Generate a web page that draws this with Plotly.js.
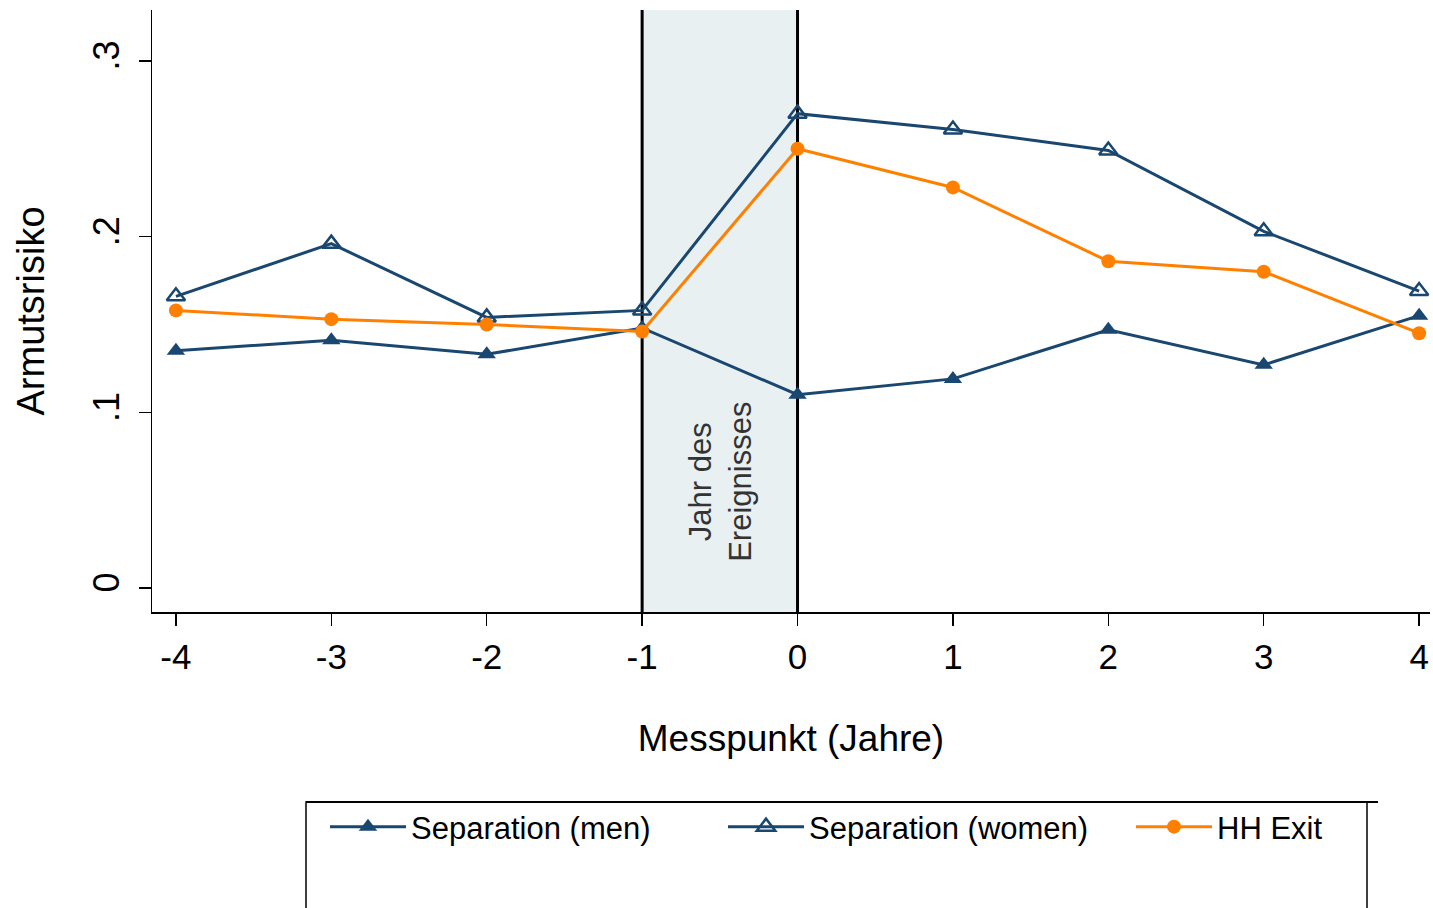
<!DOCTYPE html>
<html>
<head>
<meta charset="utf-8">
<script src="https://cdn.plot.ly/plotly-3.0.1.min.js"></script>
<style>html,body{margin:0;padding:0;background:#fff;}#chart{width:1433px;height:908px;}</style>
</head>
<body>
<div id="chart"></div>
<script>
const years = [-4, -3, -2, -1, 0, 1, 2, 3, 4];
const sepMen = [0.135, 0.141, 0.133, 0.148, 0.110, 0.119, 0.147, 0.127, 0.155];
const sepWomen = [0.166, 0.196, 0.154, 0.158, 0.270, 0.261, 0.249, 0.203, 0.169];
const hhExit = [0.158, 0.153, 0.150, 0.146, 0.250, 0.228, 0.186, 0.180, 0.145];
const seriesNames = ['Separation (men)', 'Separation (women)', 'HH Exit'];
const yTickVals = [0, 0.1, 0.2, 0.3];
const yTickText = ['0', '.1', '.2', '.3'];
const eventStart = -1, eventEnd = 0;

const navy = '#1a476f';
const orange = '#ff8000';
const font = 'Liberation Sans, Arial, sans-serif';

const traces = [
  {x: years, y: sepMen, name: seriesNames[0], mode: 'lines+markers', legend: 'legend',
   line: {color: navy, width: 3}, marker: {symbol: 'triangle-up', size: 16, color: navy}},
  {x: years, y: sepWomen, name: seriesNames[1], mode: 'lines+markers', legend: 'legend2',
   line: {color: navy, width: 3}, marker: {symbol: 'triangle-up-open', size: 16, color: navy, line: {width: 2.5, color: navy}}},
  {x: years, y: hhExit, name: seriesNames[2], mode: 'lines+markers', legend: 'legend3',
   line: {color: orange, width: 3}, marker: {symbol: 'circle', size: 14, color: orange}}
];

function px2x(px) { return (px - 152) / 1278; }
const legY = (612 - 800) / 602;
function leg(px) {
  return {orientation: 'h', x: px2x(px), xanchor: 'left', y: legY, yanchor: 'top',
    bgcolor: 'rgba(0,0,0,0)', borderwidth: 0, font: {size: 31, family: font, color: '#000'},
    itemwidth: 76};
}

const layout = {
  width: 1433, height: 908,
  margin: {l: 152, r: 3, t: 10, b: 296, autoexpand: false},
  paper_bgcolor: '#fff', plot_bgcolor: '#fff',
  font: {family: font, color: '#000'},
  showlegend: true,
  legend: leg(325),
  legend2: leg(723),
  legend3: leg(1131),
  xaxis: {range: [-4.154, 4.07], tickvals: years, ticktext: years.map(String),
    showgrid: false, zeroline: false, showline: true, linecolor: '#000', linewidth: 1.5,
    ticks: 'outside', ticklen: 12, tickwidth: 1.5, tickcolor: '#000',
    tickfont: {size: 35, family: font}, ticklabelstandoff: 1,
    title: {text: 'Messpunkt (Jahre)', font: {size: 37, family: font}, standoff: 50}},
  yaxis: {range: [-0.0137, 0.329], tickvals: yTickVals, ticktext: yTickText,
    showgrid: false, zeroline: false, showline: true, linecolor: '#000', linewidth: 1.5,
    ticks: 'outside', ticklen: 12, tickwidth: 1.5, tickcolor: '#000', tickangle: -90,
    tickfont: {size: 36, family: font}, ticklabelstandoff: 5,
    title: {text: 'Armutsrisiko', font: {size: 38, family: font}, standoff: 30}},
  shapes: [
    {type: 'rect', xref: 'x', yref: 'paper', x0: eventStart, x1: eventEnd, y0: 0, y1: 1,
     fillcolor: '#e8f0f2', line: {width: 0}, layer: 'below'},
    {type: 'line', xref: 'x', yref: 'paper', x0: eventStart, x1: eventStart, y0: 0, y1: 1,
     line: {color: '#000', width: 3}, layer: 'below'},
    {type: 'line', xref: 'x', yref: 'paper', x0: eventEnd, x1: eventEnd, y0: 0, y1: 1,
     line: {color: '#000', width: 3}, layer: 'below'},
    {type: 'rect', xref: 'paper', yref: 'paper', x0: px2x(306), x1: px2x(1367), y0: -0.3156, y1: -0.55,
     line: {color: '#000', width: 1.5}, fillcolor: 'rgba(0,0,0,0)'},
    {type: 'line', xref: 'paper', yref: 'paper', x0: px2x(306), x1: px2x(1378), y0: -0.3156, y1: -0.3156,
     line: {color: '#000', width: 2}}
  ],
  annotations: [
    {xref: 'x', yref: 'y', x: (eventStart + eventEnd) / 2, y: 0.0603, text: 'Jahr des<br>Ereignisses',
     showarrow: false, textangle: -90, font: {size: 31, family: font, color: '#333'}, align: 'center'}
  ]
};

Plotly.newPlot('chart', traces, layout, {displayModeBar: false, staticPlot: true});
</script>
</body>
</html>
